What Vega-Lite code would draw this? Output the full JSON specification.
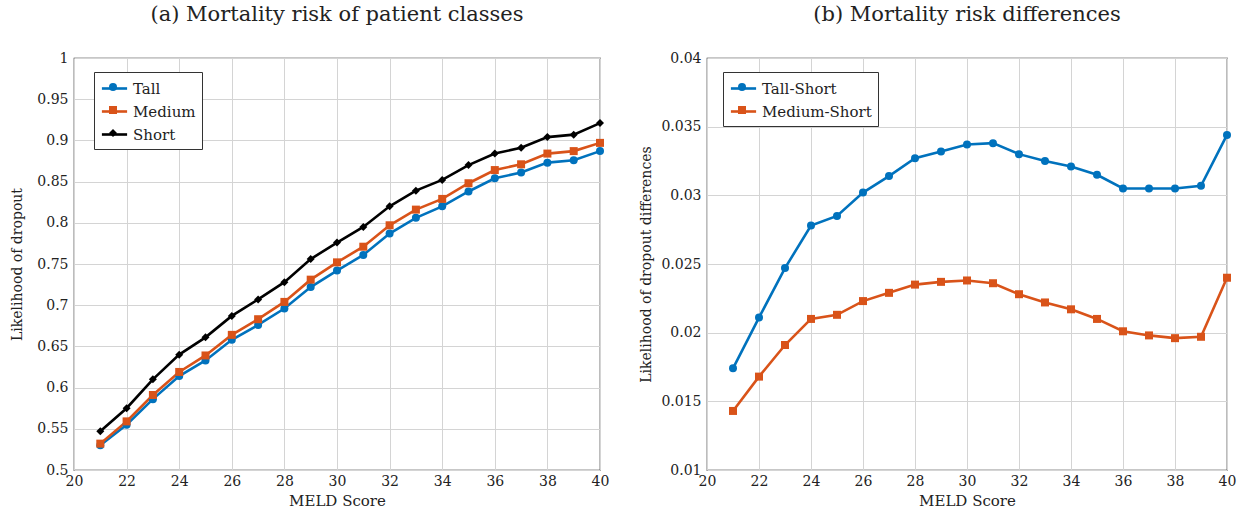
{
  "$schema": "https://vega.github.io/schema/vega-lite/v6.json",
  "background": "white",
  "padding": {"left": 9, "top": 3, "right": 10, "bottom": 5},
  "spacing": 107,
  "bounds": "flush",
  "config": {
    "font": "DejaVu Serif",
    "view": {"stroke": "#222222", "strokeWidth": 1.2},
    "axis": {
      "domain": false, "ticks": false, "grid": true, "gridColor": "#d4d4d4", "gridWidth": 1, "labelFlush": false,
      "labelFont": "DejaVu Serif", "labelFontSize": 14, "labelColor": "#222222",
      "titleFont": "DejaVu Serif", "titleFontSize": 14, "titleFontWeight": "normal", "titleColor": "#222222"
    },
    "title": {"font": "DejaVu Serif", "fontSize": 21, "fontWeight": "normal", "color": "#222222", "offset": 26},
    "legend": {
      "labelFont": "DejaVu Serif", "labelFontSize": 15, "labelColor": "#222222",
      "padding": 6, "labelOffset": 5
    }
  },
  "datasets": {
    "risk": [
      {"meld": 21, "cls": "Tall", "v": 0.530}, {"meld": 22, "cls": "Tall", "v": 0.555}, {"meld": 23, "cls": "Tall", "v": 0.586},
      {"meld": 24, "cls": "Tall", "v": 0.614}, {"meld": 25, "cls": "Tall", "v": 0.633}, {"meld": 26, "cls": "Tall", "v": 0.658},
      {"meld": 27, "cls": "Tall", "v": 0.676}, {"meld": 28, "cls": "Tall", "v": 0.696}, {"meld": 29, "cls": "Tall", "v": 0.722},
      {"meld": 30, "cls": "Tall", "v": 0.742}, {"meld": 31, "cls": "Tall", "v": 0.761}, {"meld": 32, "cls": "Tall", "v": 0.787},
      {"meld": 33, "cls": "Tall", "v": 0.806}, {"meld": 34, "cls": "Tall", "v": 0.820}, {"meld": 35, "cls": "Tall", "v": 0.838},
      {"meld": 36, "cls": "Tall", "v": 0.854}, {"meld": 37, "cls": "Tall", "v": 0.861}, {"meld": 38, "cls": "Tall", "v": 0.873},
      {"meld": 39, "cls": "Tall", "v": 0.876}, {"meld": 40, "cls": "Tall", "v": 0.887},
      {"meld": 21, "cls": "Medium", "v": 0.532}, {"meld": 22, "cls": "Medium", "v": 0.559}, {"meld": 23, "cls": "Medium", "v": 0.591},
      {"meld": 24, "cls": "Medium", "v": 0.619}, {"meld": 25, "cls": "Medium", "v": 0.639}, {"meld": 26, "cls": "Medium", "v": 0.664},
      {"meld": 27, "cls": "Medium", "v": 0.683}, {"meld": 28, "cls": "Medium", "v": 0.704}, {"meld": 29, "cls": "Medium", "v": 0.731},
      {"meld": 30, "cls": "Medium", "v": 0.752}, {"meld": 31, "cls": "Medium", "v": 0.771}, {"meld": 32, "cls": "Medium", "v": 0.797},
      {"meld": 33, "cls": "Medium", "v": 0.816}, {"meld": 34, "cls": "Medium", "v": 0.829}, {"meld": 35, "cls": "Medium", "v": 0.848},
      {"meld": 36, "cls": "Medium", "v": 0.864}, {"meld": 37, "cls": "Medium", "v": 0.871}, {"meld": 38, "cls": "Medium", "v": 0.884},
      {"meld": 39, "cls": "Medium", "v": 0.887}, {"meld": 40, "cls": "Medium", "v": 0.897},
      {"meld": 21, "cls": "Short", "v": 0.547}, {"meld": 22, "cls": "Short", "v": 0.575}, {"meld": 23, "cls": "Short", "v": 0.610},
      {"meld": 24, "cls": "Short", "v": 0.640}, {"meld": 25, "cls": "Short", "v": 0.661}, {"meld": 26, "cls": "Short", "v": 0.687},
      {"meld": 27, "cls": "Short", "v": 0.707}, {"meld": 28, "cls": "Short", "v": 0.728}, {"meld": 29, "cls": "Short", "v": 0.756},
      {"meld": 30, "cls": "Short", "v": 0.776}, {"meld": 31, "cls": "Short", "v": 0.795}, {"meld": 32, "cls": "Short", "v": 0.820},
      {"meld": 33, "cls": "Short", "v": 0.839}, {"meld": 34, "cls": "Short", "v": 0.852}, {"meld": 35, "cls": "Short", "v": 0.870},
      {"meld": 36, "cls": "Short", "v": 0.884}, {"meld": 37, "cls": "Short", "v": 0.891}, {"meld": 38, "cls": "Short", "v": 0.904},
      {"meld": 39, "cls": "Short", "v": 0.907}, {"meld": 40, "cls": "Short", "v": 0.921}
    ],
    "diff": [
      {"meld": 21, "cls": "Tall-Short", "v": 0.0174}, {"meld": 22, "cls": "Tall-Short", "v": 0.0211}, {"meld": 23, "cls": "Tall-Short", "v": 0.0247},
      {"meld": 24, "cls": "Tall-Short", "v": 0.0278}, {"meld": 25, "cls": "Tall-Short", "v": 0.0285}, {"meld": 26, "cls": "Tall-Short", "v": 0.0302},
      {"meld": 27, "cls": "Tall-Short", "v": 0.0314}, {"meld": 28, "cls": "Tall-Short", "v": 0.0327}, {"meld": 29, "cls": "Tall-Short", "v": 0.0332},
      {"meld": 30, "cls": "Tall-Short", "v": 0.0337}, {"meld": 31, "cls": "Tall-Short", "v": 0.0338}, {"meld": 32, "cls": "Tall-Short", "v": 0.0330},
      {"meld": 33, "cls": "Tall-Short", "v": 0.0325}, {"meld": 34, "cls": "Tall-Short", "v": 0.0321}, {"meld": 35, "cls": "Tall-Short", "v": 0.0315},
      {"meld": 36, "cls": "Tall-Short", "v": 0.0305}, {"meld": 37, "cls": "Tall-Short", "v": 0.0305}, {"meld": 38, "cls": "Tall-Short", "v": 0.0305},
      {"meld": 39, "cls": "Tall-Short", "v": 0.0307}, {"meld": 40, "cls": "Tall-Short", "v": 0.0344},
      {"meld": 21, "cls": "Medium-Short", "v": 0.0143}, {"meld": 22, "cls": "Medium-Short", "v": 0.0168}, {"meld": 23, "cls": "Medium-Short", "v": 0.0191},
      {"meld": 24, "cls": "Medium-Short", "v": 0.0210}, {"meld": 25, "cls": "Medium-Short", "v": 0.0213}, {"meld": 26, "cls": "Medium-Short", "v": 0.0223},
      {"meld": 27, "cls": "Medium-Short", "v": 0.0229}, {"meld": 28, "cls": "Medium-Short", "v": 0.0235}, {"meld": 29, "cls": "Medium-Short", "v": 0.0237},
      {"meld": 30, "cls": "Medium-Short", "v": 0.0238}, {"meld": 31, "cls": "Medium-Short", "v": 0.0236}, {"meld": 32, "cls": "Medium-Short", "v": 0.0228},
      {"meld": 33, "cls": "Medium-Short", "v": 0.0222}, {"meld": 34, "cls": "Medium-Short", "v": 0.0217}, {"meld": 35, "cls": "Medium-Short", "v": 0.0210},
      {"meld": 36, "cls": "Medium-Short", "v": 0.0201}, {"meld": 37, "cls": "Medium-Short", "v": 0.0198}, {"meld": 38, "cls": "Medium-Short", "v": 0.0196},
      {"meld": 39, "cls": "Medium-Short", "v": 0.0197}, {"meld": 40, "cls": "Medium-Short", "v": 0.0240}
    ]
  },
  "resolve": {"scale": {"color": "independent", "shape": "independent"}, "legend": {"color": "independent", "shape": "independent"}},
  "hconcat": [
    {
      "title": {"text": "(a) Mortality risk of patient classes", "frame": "group", "anchor": "middle"},
      "width": 526, "height": 412,
      "data": {"name": "risk"},
      "encoding": {
        "x": {"field": "meld", "type": "quantitative", "title": "MELD Score",
              "scale": {"domain": [20, 40], "nice": false, "zero": false},
              "axis": {"values": [20, 22, 24, 26, 28, 30, 32, 34, 36, 38, 40], "labelPadding": 4, "titlePadding": 5, "titleFontSize": 15}},
        "y": {"field": "v", "type": "quantitative", "title": "Likelihood of dropout",
              "scale": {"domain": [0.5, 1], "nice": false, "zero": false},
              "axis": {"values": [0.5, 0.55, 0.6, 0.65, 0.7, 0.75, 0.8, 0.85, 0.9, 0.95, 1], "labelExpr": "format(datum.value, '.2~f')", "labelPadding": 6, "titleX": -50}}
      },
      "resolve": {"legend": {"color": "independent", "shape": "independent"}},
      "layer": [
        {"mark": {"type": "line", "strokeWidth": 2.6},
         "encoding": {"color": {"field": "cls", "type": "nominal", "title": null,
                  "scale": {"domain": ["Tall", "Medium", "Short"], "range": ["#0072BD", "#D95319", "#000000"]},
                  "legend": {"orient": "none", "legendX": 20, "legendY": 14, "symbolType": "M-1.4,0L1.4,0", "symbolSize": 324, "symbolStrokeWidth": 2.6,
                             "symbolOffset": 4, "labelOffset": 8, "rowPadding": 4, "strokeColor": "#333333", "fillColor": "white"}}}},
        {"mark": {"type": "point", "filled": true, "size": 64, "opacity": 1},
         "encoding": {
           "color": {"field": "cls", "type": "nominal", "title": null,
                  "legend": {"orient": "none", "legendX": 20, "legendY": 15.5, "symbolOffset": 5.5, "symbolSize": 64, "rowPadding": 7, "labelExpr": "''"}},
           "shape": {"field": "cls", "type": "nominal", "title": null,
                  "scale": {"domain": ["Tall", "Medium", "Short"], "range": ["circle", "square", "diamond"]},
                  "legend": {"orient": "none", "legendX": 20, "legendY": 15.5, "symbolOffset": 5.5, "symbolSize": 64, "rowPadding": 7, "labelExpr": "''"}}}}
      ]
    },
    {
      "title": {"text": "(b) Mortality risk differences", "frame": "group", "anchor": "middle"},
      "width": 520, "height": 412,
      "data": {"name": "diff"},
      "encoding": {
        "x": {"field": "meld", "type": "quantitative", "title": "MELD Score",
              "scale": {"domain": [20, 40], "nice": false, "zero": false},
              "axis": {"values": [20, 22, 24, 26, 28, 30, 32, 34, 36, 38, 40], "labelPadding": 4, "titlePadding": 5, "titleFontSize": 15}},
        "y": {"field": "v", "type": "quantitative", "title": "Likelihood of dropout differences",
              "scale": {"domain": [0.01, 0.04], "nice": false, "zero": false},
              "axis": {"values": [0.01, 0.015, 0.02, 0.025, 0.03, 0.035, 0.04], "labelExpr": "format(datum.value, '.3~f')", "labelPadding": 6, "titleX": -54}}
      },
      "resolve": {"legend": {"color": "independent", "shape": "independent"}},
      "layer": [
        {"mark": {"type": "line", "strokeWidth": 2.6},
         "encoding": {"color": {"field": "cls", "type": "nominal", "title": null,
                  "scale": {"domain": ["Tall-Short", "Medium-Short"], "range": ["#0072BD", "#D95319"]},
                  "legend": {"orient": "none", "legendX": 16, "legendY": 14, "symbolType": "M-1.4,0L1.4,0", "symbolSize": 324, "symbolStrokeWidth": 2.6,
                             "symbolOffset": 4, "labelOffset": 8, "rowPadding": 4, "strokeColor": "#333333", "fillColor": "white"}}}},
        {"mark": {"type": "point", "filled": true, "size": 64, "opacity": 1},
         "encoding": {
           "color": {"field": "cls", "type": "nominal", "title": null,
                  "legend": {"orient": "none", "legendX": 16, "legendY": 15.5, "symbolOffset": 5.5, "symbolSize": 64, "rowPadding": 7, "labelExpr": "''"}},
           "shape": {"field": "cls", "type": "nominal", "title": null,
                  "scale": {"domain": ["Tall-Short", "Medium-Short"], "range": ["circle", "square"]},
                  "legend": {"orient": "none", "legendX": 16, "legendY": 15.5, "symbolOffset": 5.5, "symbolSize": 64, "rowPadding": 7, "labelExpr": "''"}}}}
      ]
    }
  ]
}
